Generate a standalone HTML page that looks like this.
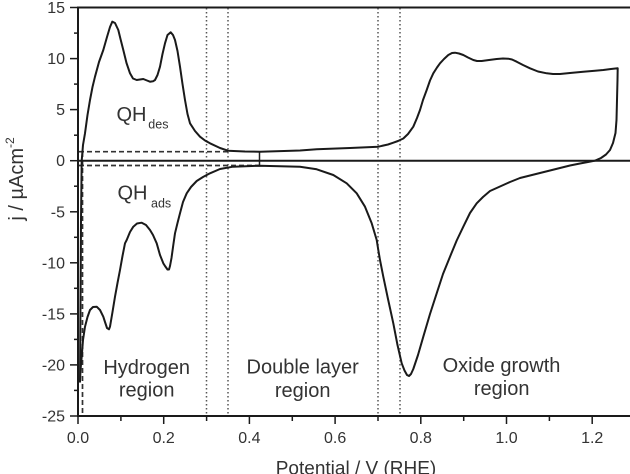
<!DOCTYPE html>
<html>
<head>
<meta charset="utf-8">
<style>
  html, body { margin:0; padding:0; background:#fff; }
  svg { display:block; }
  text { font-family: "Liberation Sans", Arial, sans-serif; fill:#333; }
</style>
</head>
<body>
<svg width="630" height="474" viewBox="0 0 630 474" xmlns="http://www.w3.org/2000/svg">
  <rect x="0" y="0" width="630" height="474" fill="#fff"/>

  <!-- dotted region boundaries -->
  <g stroke="#555" stroke-width="1.5" stroke-dasharray="1.5 2.5" fill="none">
    <line x1="206.5" y1="8" x2="206.5" y2="415"/>
    <line x1="228" y1="8" x2="228" y2="415"/>
    <line x1="378" y1="8" x2="378" y2="415"/>
    <line x1="400" y1="8" x2="400" y2="415"/>
  </g>

  <!-- dashed QH guide lines -->
  <g stroke="#333" stroke-width="1.7" stroke-dasharray="5 3" fill="none">
    <line x1="79" y1="151.7" x2="228" y2="151.7"/>
    <line x1="79" y1="165.5" x2="259" y2="165.5"/>
    <line x1="82.5" y1="152" x2="82.5" y2="415"/>
  </g>
  <line x1="259.5" y1="151.7" x2="259.5" y2="165.5" stroke="#222" stroke-width="1.5"/>

  <!-- frame / axes -->
  <g stroke="#1a1a1a" stroke-width="2" fill="none">
    <line x1="78" y1="7.5" x2="630" y2="7.5"/>
    <line x1="78" y1="6.5" x2="78" y2="416.5"/>
    <line x1="77" y1="416" x2="630" y2="416"/>
    <line x1="78" y1="160.7" x2="630" y2="160.7"/>
  </g>

  <!-- y ticks -->
  <g stroke="#1a1a1a" stroke-width="1.5">
    <line x1="70" y1="7.5" x2="78" y2="7.5"/>
    <line x1="70" y1="58.6" x2="78" y2="58.6"/>
    <line x1="70" y1="109.6" x2="78" y2="109.6"/>
    <line x1="70" y1="160.7" x2="78" y2="160.7"/>
    <line x1="70" y1="211.8" x2="78" y2="211.8"/>
    <line x1="70" y1="262.8" x2="78" y2="262.8"/>
    <line x1="70" y1="313.9" x2="78" y2="313.9"/>
    <line x1="70" y1="364.9" x2="78" y2="364.9"/>
    <line x1="70" y1="416" x2="78" y2="416"/>
    <line x1="74" y1="33.1" x2="78" y2="33.1"/>
    <line x1="74" y1="84.1" x2="78" y2="84.1"/>
    <line x1="74" y1="135.2" x2="78" y2="135.2"/>
    <line x1="74" y1="186.2" x2="78" y2="186.2"/>
    <line x1="74" y1="237.3" x2="78" y2="237.3"/>
    <line x1="74" y1="288.3" x2="78" y2="288.3"/>
    <line x1="74" y1="339.4" x2="78" y2="339.4"/>
    <line x1="74" y1="390.4" x2="78" y2="390.4"/>
  </g>

  <!-- x ticks -->
  <g stroke="#1a1a1a" stroke-width="1.5">
    <line x1="78" y1="416" x2="78" y2="424"/>
    <line x1="163.7" y1="416" x2="163.7" y2="424"/>
    <line x1="249.4" y1="416" x2="249.4" y2="424"/>
    <line x1="335.1" y1="416" x2="335.1" y2="424"/>
    <line x1="420.8" y1="416" x2="420.8" y2="424"/>
    <line x1="506.5" y1="416" x2="506.5" y2="424"/>
    <line x1="592.2" y1="416" x2="592.2" y2="424"/>
    <line x1="120.9" y1="416" x2="120.9" y2="421"/>
    <line x1="206.6" y1="416" x2="206.6" y2="421"/>
    <line x1="292.3" y1="416" x2="292.3" y2="421"/>
    <line x1="378" y1="416" x2="378" y2="421"/>
    <line x1="463.7" y1="416" x2="463.7" y2="421"/>
    <line x1="549.4" y1="416" x2="549.4" y2="421"/>
  </g>

  <!-- y tick labels -->
  <g font-size="16" text-anchor="end">
    <text x="65" y="13">15</text>
    <text x="65" y="64.1">10</text>
    <text x="65" y="115.1">5</text>
    <text x="65" y="166.2">0</text>
    <text x="65" y="217.3">-5</text>
    <text x="65" y="268.3">-10</text>
    <text x="65" y="319.4">-15</text>
    <text x="65" y="370.4">-20</text>
    <text x="65" y="421.5">-25</text>
  </g>

  <!-- x tick labels -->
  <g font-size="16" text-anchor="middle">
    <text x="78" y="443">0.0</text>
    <text x="163.7" y="443">0.2</text>
    <text x="249.4" y="443">0.4</text>
    <text x="335.1" y="443">0.6</text>
    <text x="420.8" y="443">0.8</text>
    <text x="506.5" y="443">1.0</text>
    <text x="592.2" y="443">1.2</text>
  </g>

  <!-- axis titles -->
  <text x="356" y="474.5" font-size="19" text-anchor="middle">Potential / V (RHE)</text>
  <text transform="translate(23,179) rotate(-90)" font-size="20" text-anchor="middle">j / µAcm<tspan font-size="12" dy="-9">-2</tspan></text>

  <!-- CV curve -->
  <polyline fill="none" stroke="#1a1a1a" stroke-width="2" stroke-linejoin="round" stroke-linecap="round" points="
80,381.7 80.5,300 81,220 81.7,160.7 83,145 85,133.3 87.5,115 90,100 92.5,87 95,76.7 99,62 103.3,50 107,37 110,27 112.3,21.7 115,23 118.3,30 120.5,39 123.3,50 126.5,63 130,73.3 133,78.5 136.7,80 140,79.5 143.3,79 147,80.5 150,81.7 153,81.3 155,80 157.5,75 160,66.7 162.5,54 165,43.3 167.5,35 170.7,32.3 173,35 175,40 177.5,51 180,66.7 182.5,84 185,100 187.5,114 190,123.3 195,131 200,136.7 205,140.5 210,143.3 220,148 228,150.7 245,151.5 260,151.7 300,150.5 316.7,149.3 350,148 378.3,146.7 388,144.5 393.3,142.7 398,141 403.3,138.5 408,134 413.3,126.7 417,118 420,110 423,100 426.7,90 430,80.5 433.3,73.3 437,67.5 440,63.3 444,59 448.3,55 452,53 455,52.7 459,53.5 463.3,55 468,57.5 473.3,60 477,61 481.7,61 489,60 496.7,59 503,58.5 508.3,58.7 512,59.5 516.7,61.7 523,65 530,68.3 538,71.5 546.7,73.3 553,74 560,74 570,73 583.3,71.7 595,70.8 603.3,70 611,69 617.7,68.3
617.5,80 617,100 616.5,120 615.5,133 613,143 610,150 606,154.5 601,158 595,160.7 588,162 580,163.5 570,165.5 560,168 550,170.5 540,173 530,175.5 520,178 510,182 500,186.5 490,191 483,197 476.7,203.3 470,213 463.3,226.7 456.7,240.5 450,256.7 443,274 436.7,293.3 430,314 423.3,336.7 418,355 413.3,369 411,374 409,376 407,375 404.5,370.5 401.7,363.3 397.5,345 393.3,323.3 388,299 383.3,276.7 380,260 378.3,250 376.7,240 371.7,223.3 365,206.7 356.7,193.3 346.7,183.3 333.3,175 316.7,169.3 300,166.7 260,165.7 233,166.7 220,169 210,173.3 203,177 196.7,181 191,187 186.7,193.3 183,202 180,213.3 177.5,223 175,233.3 173.3,245 171.5,258 170,266 169,269.5 167.5,269.5 165,266 163.3,263.3 160,255 156.7,243.3 153,235 150,230 146,225 141.7,222.7 137,223.5 133.3,226.7 130,232 126.7,240 125,243.3 122.5,256 120,270 117.5,283 115,296.7 112.5,312 110,326.7 109,329.3 107,328 105,322 103.3,316.7 100,310 96.7,306.7 93,307 90,310 87.5,317 85,326.7 83,340 81.7,356.7 80.5,370 80,381.7"/>

  <!-- QH labels -->
  <text x="116.5" y="121" font-size="20">QH</text>
  <text x="148.3" y="128.3" font-size="12.5" fill="#555">des</text>
  <text x="117.5" y="199.3" font-size="20">QH</text>
  <text x="151" y="207.7" font-size="12.5" fill="#555">ads</text>

  <!-- region labels -->
  <g font-size="20" text-anchor="middle">
    <text x="146.7" y="374">Hydrogen</text>
    <text x="146.7" y="396.5">region</text>
    <text x="302.7" y="373.3">Double layer</text>
    <text x="302.7" y="397">region</text>
    <text x="501.5" y="372">Oxide growth</text>
    <text x="501.7" y="395">region</text>
  </g>
</svg>
</body>
</html>
